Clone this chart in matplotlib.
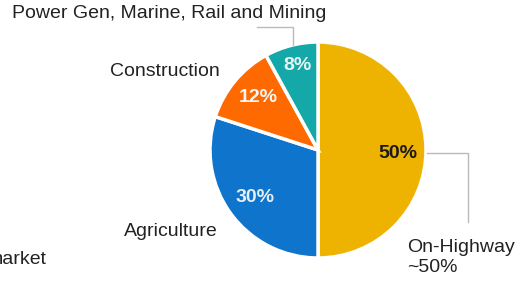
import matplotlib.pyplot as plt
import numpy as np

plt.rcParams['font.family'] = ['Liberation Sans', 'DejaVu Sans']

# Segment data
segments = ["On-Highway", "Agriculture", "Construction", "Power Gen, Marine, Rail and Mining"]
shares = [50, 30, 12, 8]
colors = ["#EEB200", "#0E74CC", "#FF6A00", "#14A8A8"]
pct_colors = ["#1a1a1a", "#E6EEF6", "#F6F6F6", "#E6F4F4"]

W, H = 527, 282
fig = plt.figure(figsize=(W / 100, H / 100), dpi=100)
ax = fig.add_axes([0, 0, 1, 1])

cx, cy, r = 318, H - 150, 108

wedges, texts, autotexts = ax.pie(
    shares, colors=colors, startangle=90, counterclock=False,
    center=(cx, cy), radius=r, frame=True,
    autopct='%.0f%%', pctdistance=0.75,
    wedgeprops=dict(edgecolor='white', linewidth=2.5),
    textprops=dict(fontsize=14, fontweight='bold'))

# nudge the percentage labels to where the original puts them
pct_pos = [(398, 154), (255, 198), (258, 98), (298, 65)]
for t, c, (px, py) in zip(autotexts, pct_colors, pct_pos):
    t.set_color(c)
    t.set_position((px, H - py))

ax.set_xlim(0, W)
ax.set_ylim(0, H)
ax.axis('off')

# category labels
ax.text(12, H - 14, segments[3], fontsize=14, color="#222222", va='center', ha='left')
ax.text(220, H - 71, segments[2], fontsize=14, color="#222222", va='center', ha='right')
ax.text(218, H - 232, segments[1], fontsize=14, color="#222222", va='center', ha='right')
ax.text(407, H - 247, segments[0], fontsize=14, color="#222222", va='center', ha='left')
ax.text(407, H - 267, "~50%", fontsize=14, color="#222222", va='center', ha='left')
ax.text(47, H - 260, "market", fontsize=14, color="#222222", va='center', ha='right')

# leader lines
ax.plot([293, 293, 257], [H - 45, H - 27, H - 27], color="#BBBBBB", lw=1)
ax.plot([427, 468, 468], [H - 153, H - 153, H - 222], color="#BBBBBB", lw=1)

fig.savefig("out.png", dpi=100)
